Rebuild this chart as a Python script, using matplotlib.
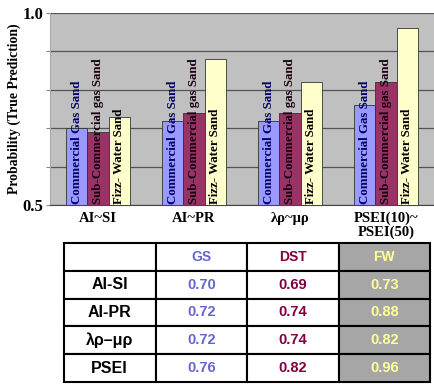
import matplotlib
matplotlib.use("Agg")
import matplotlib.pyplot as plt
import numpy as np

categories = ["AI~SI", "AI~PR", "λρ~μρ", "PSEI(10)~\nPSEI(50)"]
series_names = ["Commercial Gas Sand", "Sub-Commercial gas Sand", "Fizz- Water Sand"]
gs = [0.70, 0.72, 0.72, 0.76]
dst = [0.69, 0.74, 0.74, 0.82]
fw = [0.73, 0.88, 0.82, 0.96]
table_rows = ["AI-SI", "AI-PR", "λρ–μρ", "PSEI"]
table_cols = ["GS", "DST", "FW"]

bar_colors = ["#9999ff", "#993366", "#ffffcc"]
text_colors = ["#000066", "#1a0010", "#000000"]
table_text_colors = ["#6666cc", "#800040", "#ffff99"]

fig = plt.figure(figsize=(4.34, 3.84), dpi=100)
ax = fig.add_axes([50/434, 1-205/384, 384/434, 192/384])
ax.set_facecolor("#c0c0c0")

x = np.arange(len(categories))
w = 0.22
series = [gs, dst, fw]
for i, vals in enumerate(series):
    xs = x + (i - 1) * w
    ax.bar(xs, np.array(vals) - 0.5, bottom=0.5, width=w, color=bar_colors[i],
           edgecolor="#333333", linewidth=0.6, zorder=3)
    for xi in xs:
        ax.text(xi, 0.503, series_names[i], rotation=90, ha="center", va="bottom",
                fontsize=9.3, fontweight="bold", family="Liberation Serif",
                color=text_colors[i], zorder=4)

ax.set_xlim(-0.5, 3.5)
ax.set_ylim(0.5, 1.0)
ax.set_yticks([0.5, 0.6, 0.7, 0.8, 0.9, 1.0])
ax.set_yticklabels(["0.5", "", "", "", "", "1.0"], fontsize=12, fontweight="bold",
                   family="Liberation Serif")
ax.yaxis.grid(True, color="#555555", linewidth=0.9, zorder=1)
ax.set_axisbelow(True)
ax.tick_params(axis="y", length=3, color="#888888", pad=2)
ax.set_xticks(x)
ax.set_xticklabels(categories, fontsize=10.5, fontweight="bold", family="Liberation Serif",
                   linespacing=1.05)
ax.tick_params(axis="x", length=0, pad=5)
for s in ["top", "right"]:
    ax.spines[s].set_visible(False)
ax.spines["left"].set_color("#aaaaaa")
ax.spines["bottom"].set_color("#444444")
ax.set_ylabel("Probability (True Prediction)", fontsize=9.9, fontweight="bold",
              family="Liberation Serif", labelpad=1)

# table
tax = fig.add_axes([64/434, 1-382/384, 366/434, 139/384])
tax.axis("off")
cell_text = [[""] + table_cols]
for r, name in enumerate(table_rows):
    cell_text.append([name] + ["%.2f" % series[c][r] for c in range(3)])
tbl = tax.table(cellText=cell_text, bbox=[0, 0, 1, 1], cellLoc="center")
tbl.auto_set_font_size(False)
for (r, c), cell in tbl.get_celld().items():
    cell.set_edgecolor("#000000")
    cell.set_linewidth(1.5)
    txt = cell.get_text()
    txt.set_fontweight("bold")
    txt.set_family("Liberation Sans")
    if c == 0:
        txt.set_color("#000000")
        txt.set_fontsize(11.5)
    else:
        txt.set_color(table_text_colors[c - 1])
        txt.set_fontsize(10.5 if r > 0 else 10)
    if c == 3:
        cell.set_facecolor("#a6a6a6")
    else:
        cell.set_facecolor("#ffffff")

fig.savefig("out.png", dpi=100)
